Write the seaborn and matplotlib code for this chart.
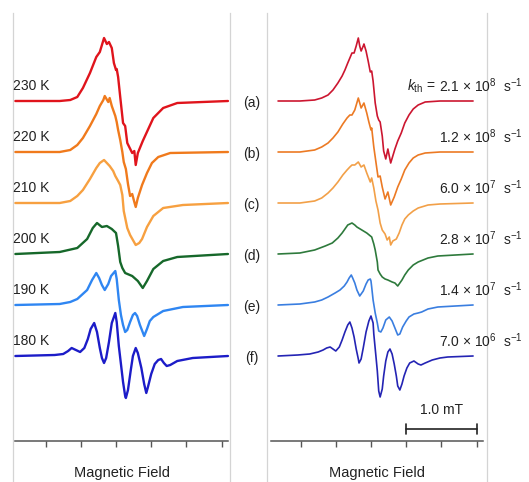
import numpy as np
import pandas as pd
import matplotlib
matplotlib.use("Agg")
import matplotlib.pyplot as plt
import matplotlib.transforms as mtransforms
import seaborn as sns

# ---- experimental spectra (field offset in mT, signal in a.u.) ----
temps = ["230 K", "220 K", "210 K", "200 K", "190 K", "180 K"]
letters = ["(a)", "(b)", "(c)", "(d)", "(e)", "(f)"]

field_230 = [-1.43, -0.80, -0.65, -0.55, -0.47, -0.37, -0.28, -0.23, -0.17, -0.13, -0.10, -0.06, -0.03, 0.00,
             0.01, 0.03, 0.06, 0.10, 0.13, 0.16, 0.23, 0.26, 0.28, 0.31, 0.38, 0.53, 0.67, 0.87, 1.59]
sig_230 = [0, 0, 1, 4, 13, 28, 44, 49, 63, 57, 59, 53, 38, 31,
           32, 24, 4, -22, -25, -42, -52, -50, -64, -52, -40, -17, -7, -2, 0]

field_220 = [-1.43, -0.80, -0.65, -0.55, -0.47, -0.37, -0.28, -0.23, -0.18, -0.16, -0.11, -0.09, -0.06, -0.01,
             0.01, 0.03, 0.06, 0.09, 0.11, 0.14, 0.17, 0.20, 0.23, 0.26, 0.28, 0.31, 0.37, 0.44, 0.51, 0.60, 0.77, 1.59]
sig_220 = [0, 0, 2, 7, 14, 26, 38, 46, 52, 56, 50, 54, 46, 36,
           30, 22, 12, 0, -10, -17, -32, -44, -42, -50, -55, -46, -33, -21, -11, -5, -1, 0]

field_210 = [-1.43, -0.80, -0.65, -0.55, -0.47, -0.37, -0.28, -0.23, -0.17, -0.13, -0.09, -0.04, -0.01,
             0.03, 0.06, 0.09, 0.11, 0.16, 0.20, 0.24, 0.28, 0.33, 0.37, 0.44, 0.53, 0.67, 0.95, 1.59]
sig_210 = [0, 0, 2, 7, 13, 24, 35, 40, 43, 40, 37, 32, 27,
           22, 18, 8, -8, -25, -32, -37, -42, -40, -36, -24, -13, -5, -2, 0]

field_200 = [-1.43, -0.80, -0.55, -0.41, -0.33, -0.27, -0.20, -0.13, -0.06, 0.00, 0.03,
             0.06, 0.09, 0.13, 0.23, 0.31, 0.38, 0.44, 0.53, 0.67, 0.87, 1.59]
sig_200 = [0, 2, 6, 15, 26, 31, 27, 28, 25, 21, 8,
           -8, -14, -19, -22, -27, -34, -27, -15, -7, -3, 0]

field_190 = [-1.43, -0.80, -0.65, -0.55, -0.41, -0.34, -0.28, -0.24, -0.20, -0.16, -0.11, -0.07, -0.01,
             0.01, 0.04, 0.07, 0.10, 0.13, 0.16, 0.20, 0.24, 0.27, 0.30, 0.34, 0.40, 0.44, 0.48, 0.53,
             0.67, 0.95, 1.59]
sig_190 = [0, 1, 3, 6, 15, 25, 32, 27, 20, 15, 21, 29, 34,
           26, 5, -10, -20, -27, -25, -17, -10, -8, -11, -20, -31, -24, -16, -12,
           -6, -2, 0]

field_180 = [-1.43, -0.87, -0.75, -0.68, -0.63, -0.57, -0.51, -0.45, -0.40, -0.36, -0.31, -0.27, -0.23,
             -0.20, -0.17, -0.14, -0.10, -0.06, -0.01, 0.01, 0.04, 0.07, 0.10, 0.13, 0.14, 0.17, 0.21,
             0.24, 0.28, 0.31, 0.36, 0.40, 0.43, 0.45, 0.50, 0.55, 0.60, 0.64, 0.68, 0.72, 0.77, 0.87,
             1.09, 1.59]
sig_180 = [0, 1, 2, 5, 8, 6, 4, 8, 17, 27, 33, 24, 8,
           -2, -7, -2, 14, 33, 43, 34, 10, -8, -26, -40, -42, -34, -14,
           0, 8, 3, -12, -28, -37, -32, -18, -8, -4, -3, -7, -10, -9, -5,
           -2, 0]

# ---- simulated spectra ----
rates = [r"2.1 × 10$^{8}$  s$^{-1}$", r"1.2 × 10$^{8}$  s$^{-1}$", r"6.0 × 10$^{7}$  s$^{-1}$",
         r"2.8 × 10$^{7}$  s$^{-1}$", r"1.4 × 10$^{7}$  s$^{-1}$", r"7.0 × 10$^{6}$  s$^{-1}$"]

sfield_1 = [-1.32, -1.01, -0.80, -0.70, -0.61, -0.54, -0.47, -0.41, -0.37, -0.33, -0.30, -0.27, -0.24,
            -0.21, -0.18, -0.16, -0.14, -0.11, -0.10, -0.07, -0.04, -0.01, 0.01, 0.03, 0.06, 0.09, 0.11,
            0.13, 0.16, 0.18, 0.21, 0.24, 0.28, 0.31, 0.34, 0.38, 0.43, 0.48, 0.54, 0.60, 0.67, 0.77,
            0.98, 1.45]
ssig_1 = [0, 0, 1, 3, 6, 11, 18, 25, 31, 38, 43, 48, 48,
          55, 63, 55, 50, 55, 57, 50, 40, 29, 30, 20, -2, -15, -19,
          -21, -35, -50, -58, -48, -62, -55, -48, -40, -32, -22, -14, -8, -4, -1,
          0, 0]

sfield_2 = [-1.32, -1.01, -0.80, -0.70, -0.61, -0.54, -0.47, -0.40, -0.34, -0.30, -0.27, -0.23, -0.18,
            -0.14, -0.10, -0.06, -0.03, 0.00, 0.01, 0.04, 0.07, 0.10, 0.13, 0.16, 0.20, 0.24, 0.28,
            0.33, 0.38, 0.43, 0.48, 0.54, 0.60, 0.67, 0.77, 0.98, 1.45]
ssig_2 = [0, 0, 2, 5, 9, 14, 20, 28, 34, 37, 37, 42, 54,
          44, 49, 39, 30, 22, 24, 5, -10, -25, -24, -35, -47, -40, -53,
          -45, -35, -27, -18, -11, -6, -3, -1, 0, 0]

sfield_3 = [-1.32, -1.01, -0.80, -0.70, -0.61, -0.54, -0.47, -0.40, -0.34, -0.30, -0.27, -0.23, -0.18,
            -0.14, -0.10, -0.06, -0.01, 0.01, 0.04, 0.07, 0.10, 0.13, 0.16, 0.20, 0.23, 0.26, 0.28,
            0.31, 0.36, 0.40, 0.44, 0.48, 0.53, 0.60, 0.67, 0.81, 0.98, 1.45]
ssig_3 = [0, 0, 2, 5, 10, 15, 21, 28, 33, 36, 38, 38, 41,
          36, 38, 30, 21, 25, 15, 2, -7, -20, -27, -31, -37, -34, -42,
          -38, -36, -30, -22, -16, -12, -8, -5, -2, -1, 0]

sfield_4 = [-1.32, -1.01, -0.80, -0.65, -0.55, -0.47, -0.41, -0.37, -0.33, -0.27, -0.23, -0.20, -0.13,
            -0.06, 0.01, 0.04, 0.06, 0.09, 0.10, 0.13, 0.16, 0.20, 0.24, 0.30, 0.34, 0.38, 0.44,
            0.48, 0.53, 0.60, 0.67, 0.81, 0.95, 1.45]
ssig_4 = [0, 1, 4, 8, 11, 16, 21, 25, 29, 31, 29, 27, 24,
          21, 17, 10, 4, -8, -16, -20, -23, -25, -26, -28, -29, -32, -26,
          -21, -16, -11, -8, -4, -2, 0]

sfield_5 = [-1.32, -1.01, -0.80, -0.70, -0.61, -0.51, -0.44, -0.38, -0.34, -0.31, -0.28, -0.26, -0.23,
            -0.20, -0.16, -0.11, -0.07, -0.04, -0.01, 0.00, 0.01, 0.03, 0.06, 0.09, 0.11, 0.14, 0.17,
            0.21, 0.26, 0.30, 0.34, 0.38, 0.41, 0.45, 0.50, 0.54, 0.61, 0.67, 0.72, 0.81, 0.95, 1.45]
ssig_5 = [0, 1, 3, 5, 8, 12, 15, 19, 23, 27, 30, 27, 22,
          15, 9, 14, 21, 25, 26, 24, 18, 5, -8, -18, -26, -27, -23,
          -15, -12, -16, -23, -30, -29, -22, -16, -12, -9, -8, -7, -4, -2, 0]

sfield_6 = [-1.32, -1.04, -0.87, -0.75, -0.68, -0.63, -0.58, -0.54, -0.50, -0.45, -0.41, -0.37, -0.33,
            -0.30, -0.27, -0.24, -0.21, -0.18, -0.17, -0.14, -0.11, -0.07, -0.03, 0.00, 0.03, 0.04,
            0.07, 0.09, 0.11, 0.13, 0.16, 0.18, 0.21, 0.24, 0.27, 0.30, 0.33, 0.36, 0.38, 0.41, 0.44,
            0.47, 0.51, 0.55, 0.61, 0.67, 0.71, 0.77, 0.87, 0.98, 1.09, 1.45]
ssig_6 = [0, 1, 2, 4, 6, 8, 9, 7, 5, 9, 16, 24, 31,
          34, 28, 19, 7, -3, -7, -3, 8, 24, 35, 40, 33, 22,
          0, -15, -35, -41, -33, -20, -5, 4, 7, 2, -8, -20, -30, -34, -28,
          -20, -12, -7, -5, -8, -9, -7, -4, -2, -1, 0]

exp_fields = [field_230, field_220, field_210, field_200, field_190, field_180]
exp_sigs = [sig_230, sig_220, sig_210, sig_200, sig_190, sig_180]
sim_fields = [sfield_1, sfield_2, sfield_3, sfield_4, sfield_5, sfield_6]
sim_sigs = [ssig_1, ssig_2, ssig_3, ssig_4, ssig_5, ssig_6]

exp_colors = ["#e0141c", "#f07a1c", "#f7a040", "#16682a", "#2f86f2", "#1c1cc8"]
sim_colors = ["#cc1630", "#ec7a24", "#f2a048", "#2e7a3c", "#3a7ee0", "#2424b4"]

spacing = 51  # vertical offset between stacked spectra (a.u.)


def stack(fields, sigs, names):
    rows = []
    for i, (f, s, n) in enumerate(zip(fields, sigs, names)):
        off = (len(names) - 1 - i) * spacing
        for x, y in zip(f, s):
            rows.append({"field": x, "signal": y + off, "trace": n})
    return pd.DataFrame(rows)


exp_df = stack(exp_fields, exp_sigs, temps)
sim_df = stack(sim_fields, sim_sigs, rates)

sns.set_theme(style="white")
plt.rcParams["font.family"] = ["Liberation Sans", "DejaVu Sans"]
plt.rcParams["mathtext.fontset"] = "custom"
plt.rcParams["mathtext.rm"] = "Liberation Sans"
plt.rcParams["mathtext.it"] = "Liberation Sans:italic"

fig = plt.figure(figsize=(5.29, 4.82), dpi=100)
axL = fig.add_axes([13 / 529, 0, 217 / 529, 469 / 482])
axR = fig.add_axes([267 / 529, 0, 220 / 529, 469 / 482])

sns.lineplot(data=exp_df, x="field", y="signal", hue="trace", palette=dict(zip(temps, exp_colors)),
             sort=False, estimator=None, lw=1.7, legend=False, ax=axL)
sns.lineplot(data=sim_df, x="field", y="signal", hue="trace", palette=dict(zip(rates, sim_colors)),
             sort=False, estimator=None, lw=1.2, legend=False, ax=axR)

axL.set_xlim(-1.463, 1.619)
axR.set_xlim(-1.477, 1.648)
ticks = [-1.0, -0.5, 0.0, 0.5, 1.0, 1.5]
axis_y = -85

for ax, bounds in [(axL, (-1.43, 1.59)), (axR, (-1.42, 1.59))]:
    ax.set_ylim(-126, 343)
    ax.set_xticks(ticks)
    ax.set_xticklabels([])
    ax.set_yticks([])
    ax.set_xlabel("")
    ax.set_ylabel("")
    ax.patch.set_alpha(0)
    ax.spines["top"].set_visible(False)
    for side in ["left", "right"]:
        ax.spines[side].set_color("#d4d4d4")
        ax.spines[side].set_linewidth(0.9)
    ax.spines["bottom"].set_position(("data", axis_y))
    ax.spines["bottom"].set_bounds(*bounds)
    ax.spines["bottom"].set_color("#555555")
    ax.spines["bottom"].set_linewidth(1.1)
    ax.tick_params(axis="x", direction="out", length=4, width=1, color="#555555", bottom=True)
    ax.text(0.5 * (bounds[0] + bounds[1]), -121.5, "Magnetic Field", ha="center", va="baseline",
            fontsize=10.5, color="#222222")

# labels on the experimental panel
trL = mtransforms.blended_transform_factory(axL.transAxes, axL.transData)
for i, (t, l) in enumerate(zip(temps, letters)):
    base = (len(temps) - 1 - i) * spacing
    axL.text(0.0, base + 15, t, transform=trL, ha="left", va="center", fontsize=10, color="#222222")
    axL.text(1.10, base - 2, l, transform=trL, ha="center", va="center", fontsize=10,
             color="#222222", clip_on=False)

# rate constants on the simulated panel
for i, r in enumerate(rates):
    base = (len(rates) - 1 - i) * spacing
    axR.text(0.96, base + 15, r, ha="left", va="center", fontsize=10, color="#222222", clip_on=False)
axR.text(0.92, spacing * 5 + 15, r"$k_{\mathrm{th}}$ =", ha="right", va="center", fontsize=10,
         color="#222222")

# scale bar 1.0 mT
axR.plot([0.5, 1.5], [-73, -73], color="#222222", lw=1.2)
axR.plot([0.5, 0.5], [-78, -68], color="#222222", lw=1.2)
axR.plot([1.5, 1.5], [-78, -68], color="#222222", lw=1.2)
axR.text(1.0, -54, "1.0 mT", ha="center", va="center", fontsize=10, color="#222222")

fig.savefig("out.png", dpi=100)
